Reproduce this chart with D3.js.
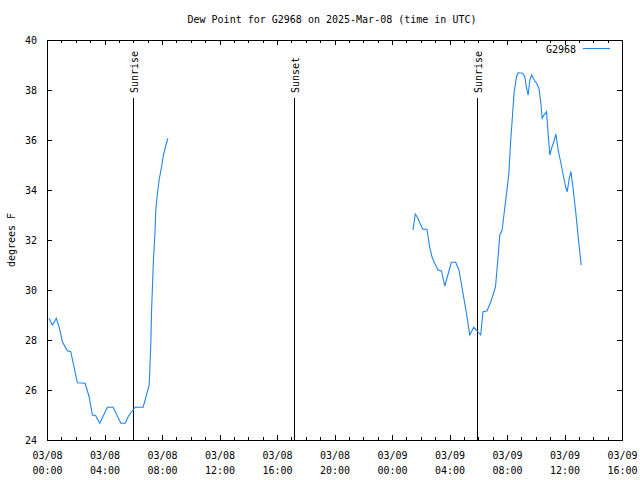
<!DOCTYPE html>
<html>
<head>
<meta charset="utf-8">
<script src="https://cdn.jsdelivr.net/npm/d3@7"></script>
<style>
body{margin:0;background:#fff;}
text{font-family:"DejaVu Sans Mono",monospace;font-size:10px;fill:#000;}
</style>
</head>
<body>
<script>
// hours after 03/08 00:00 UTC, dew point in F
const s1Hours = [0.14,0.37,0.65,0.84,1.07,1.41,1.65,1.88,2.11,2.65,2.93,3.16,3.39,3.67,4.2,4.6,5.14,5.44,5.67,6.13,6.69,7.11,7.23,7.27,7.34,7.41,7.51,7.57,7.67,7.8,7.97,8.1,8.27,8.41];
const s1Values = [28.87,28.6,28.87,28.53,27.93,27.57,27.53,26.93,26.29,26.27,25.73,25.0,24.97,24.67,25.31,25.31,24.67,24.67,24.96,25.31,25.31,26.2,28.0,29.1,30.2,31.27,32.27,33.2,33.8,34.4,34.93,35.4,35.8,36.07];
const s2Hours = [25.46,25.62,25.8,25.97,26.15,26.43,26.62,26.78,26.97,27.2,27.44,27.67,27.85,28.13,28.43,28.66,28.9,29.18,29.41,29.69,29.92,30.17,30.33,30.61,30.92,31.2,31.38,31.5,31.66,31.8,31.97,32.13,32.26,32.36,32.49,32.66,32.77,33.08,33.24,33.36,33.47,33.59,33.71,33.89,34.06,34.22,34.33,34.45,34.56,34.68,34.75,34.86,34.98,35.1,35.26,35.4,35.56,35.73,35.91,36.08,36.19,36.33,36.45,36.61,36.79,36.95,37.05,37.16];
const s2Values = [32.4,33.04,32.87,32.64,32.43,32.43,31.73,31.33,31.07,30.8,30.76,30.16,30.53,31.11,31.11,30.8,30.0,29.07,28.2,28.51,28.37,28.2,29.13,29.16,29.6,30.13,31.33,32.2,32.4,33.07,33.87,34.67,36.0,36.8,37.87,38.53,38.69,38.67,38.53,38.07,37.8,38.4,38.6,38.4,38.27,38.07,37.6,36.87,37.0,37.07,37.13,36.27,35.4,35.67,35.93,36.24,35.6,35.13,34.6,34.13,33.93,34.47,34.73,34.0,33.07,32.13,31.6,31.0];
const sunEvents = [{h:5.98,label:"Sunrise"},{h:17.2,label:"Sunset"},{h:29.92,label:"Sunrise"}];
const yTicks = [24,26,28,30,32,34,36,38,40];
const seriesName = "G2968";
const title = "Dew Point for G2968 on 2025-Mar-08 (time in UTC)";

const width=640, height=480;
const pl=47, pr=622, pt=40, pb=440;
const t0 = Date.UTC(2025,2,8,0,0);
const toDate = h => new Date(t0 + h*3600000);
const color = "#1e84f0";

const svg = d3.select('body').append('svg')
  .attr('width',width).attr('height',height);

const x = d3.scaleUtc().domain([toDate(0),toDate(40)]).range([pl,pr]);
const y = d3.scaleLinear().domain([24,40]).range([pb,pt]);

// title
svg.append('text').attr('x',332).attr('y',23).attr('text-anchor','middle').text(title);

// minor + major ticks, all four sides, pointing inward
const g = svg.append('g').attr('shape-rendering','crispEdges');
const hour1 = d3.utcHour.every(1), hour4 = d3.utcHour.every(4);
g.append('g').attr('transform',`translate(0,${pb})`)
  .call(d3.axisBottom(x).ticks(hour1).tickSize(-3).tickFormat(''));
g.append('g').attr('transform',`translate(0,${pt})`)
  .call(d3.axisTop(x).ticks(hour1).tickSize(-3).tickFormat(''));
g.append('g').attr('transform',`translate(0,${pt})`)
  .call(d3.axisTop(x).ticks(hour4).tickSize(-5).tickFormat(''));
const xAxis = g.append('g').attr('transform',`translate(0,${pb})`)
  .call(d3.axisBottom(x).ticks(hour4).tickSize(-5).tickPadding(12)
    .tickFormat(d3.utcFormat('%m/%d')));
xAxis.selectAll('.tick text').each(function(d){
  const t = d3.select(this);
  t.text(null).attr('y',19).attr('dy',null);
  t.append('tspan').attr('x',0).text(d3.utcFormat('%m/%d')(d));
  t.append('tspan').attr('x',0).attr('dy',15).text(d3.utcFormat('%H:%M')(d));
});
g.append('g').attr('transform',`translate(${pl},0)`)
  .call(d3.axisLeft(y).tickValues(yTicks).tickSize(-5).tickPadding(10));
g.append('g').attr('transform',`translate(${pr},0)`)
  .call(d3.axisRight(y).tickValues(yTicks).tickSize(-5).tickFormat(''));
g.selectAll('.domain').remove();
g.selectAll('.tick text').style('font-family','"DejaVu Sans Mono",monospace').style('font-size','10px');
g.selectAll('.tick line').attr('stroke','#000');

// frame
svg.append('rect').attr('x',pl+0.5).attr('y',pt+0.5)
  .attr('width',pr-pl).attr('height',pb-pt)
  .attr('fill','none').attr('stroke','#000').attr('shape-rendering','crispEdges');

// y label
svg.append('text').attr('transform','translate(15,240) rotate(-90)')
  .attr('text-anchor','middle').text('degrees F');

// sunrise / sunset
sunEvents.forEach(e=>{
  const xp = Math.round(x(toDate(e.h)))+0.5;
  svg.append('line').attr('x1',xp).attr('x2',xp).attr('y1',98).attr('y2',pb)
    .attr('stroke','#000').attr('shape-rendering','crispEdges');
  svg.append('text').attr('transform',`translate(${xp+4},93) rotate(-90)`)
    .attr('text-anchor','start').text(e.label);
});

// data
const line = d3.line().x(d=>x(toDate(d[0]))).y(d=>y(d[1]));
[[s1Hours,s1Values],[s2Hours,s2Values]].forEach(([hs,vs])=>{
  svg.append('path').datum(hs.map((h,i)=>[h,vs[i]]))
    .attr('d',line).attr('fill','none').attr('stroke',color).attr('stroke-width',1.1);
});

// legend
svg.append('text').attr('x',576).attr('y',53).attr('text-anchor','end').text(seriesName);
svg.append('line').attr('x1',583).attr('x2',610).attr('y1',48.5).attr('y2',48.5)
  .attr('stroke',color).attr('shape-rendering','crispEdges');
</script>
</body>
</html>
